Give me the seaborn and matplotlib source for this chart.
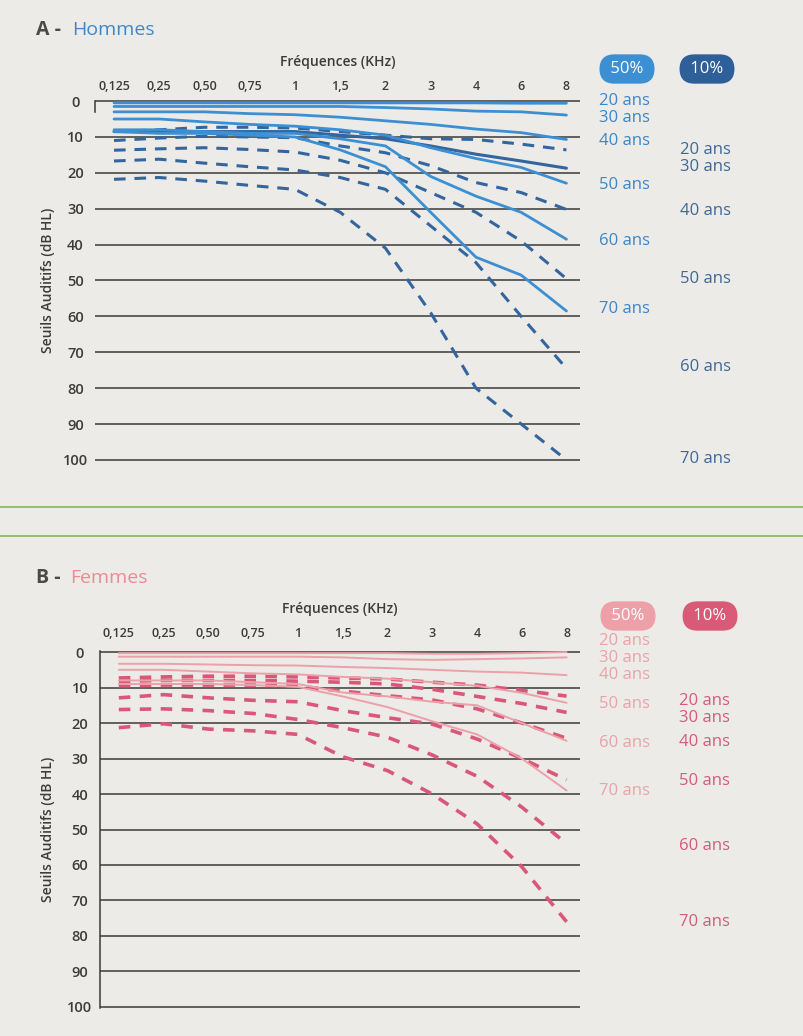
"""
Seuils auditifs par age - Hommes / Femmes
==========================================
Courbes 50% et 10% des seuils auditifs en fonction de la frequence.
"""

import numpy as np
import pandas as pd
import matplotlib
matplotlib.use("Agg")
import matplotlib.pyplot as plt
from matplotlib.lines import Line2D
import seaborn as sns

sns.set_style("white")
plt.rcParams["font.family"] = ["Open Sans", "DejaVu Sans"]

# --- donnees ---
frequences = ["0,125", "0,25", "0,50", "0,75", "1", "1,5", "2", "3", "4", "6", "8"]
ages = [20, 30, 40, 50, 60, 70]

hommes_50 = [
    [0.5, 0.5, 0.5, 0.5, 0.5, 0.5, 0.5, 0.5, 0.5, 0.6, 0.6],
    [1.5, 1.5, 1.5, 1.5, 1.5, 1.5, 1.8, 2.2, 2.8, 3.0, 3.9],
    [3.0, 3.0, 3.0, 3.5, 3.8, 4.5, 5.5, 6.5, 7.8, 8.8, 10.7],
    [5.0, 5.0, 5.8, 6.5, 7.0, 8.0, 9.5, 13.0, 16.0, 18.5, 22.9],
    [8.0, 8.0, 8.5, 9.0, 9.0, 10.5, 12.5, 21.0, 26.5, 31.0, 38.5],
    [8.5, 9.0, 9.0, 9.5, 10.0, 13.6, 18.3, 31.0, 43.5, 48.5, 58.5],
]
hommes_10 = [
    [8.5, 8.0, 7.3, 7.3, 7.5, 8.5, 9.5, 10.5, 10.7, 12.0, 13.6],
    [8.5, 8.5, 8.5, 8.5, 8.5, 9.5, 10.5, 12.5, 14.8, 16.7, 18.7],
    [11.0, 10.3, 9.8, 10.0, 10.2, 12.5, 14.4, 18.0, 22.7, 25.5, 30.2],
    [13.7, 13.3, 13.0, 13.5, 14.2, 16.5, 20.0, 25.5, 31.0, 39.0, 49.5],
    [16.7, 16.2, 17.3, 18.3, 19.2, 21.3, 24.6, 34.8, 45.0, 60.0, 74.5],
    [21.8, 21.3, 22.3, 23.5, 24.6, 31.0, 41.0, 59.0, 80.0, 90.0, 100.0],
]
femmes_50 = [
    [0.3, 0.3, 0.3, 0.3, 0.3, 0.3, 0.3, 0.5, 0.5, 0.3, 0.0],
    [1.3, 1.3, 1.3, 1.3, 1.3, 1.5, 2.0, 2.2, 2.0, 1.8, 1.5],
    [3.3, 3.3, 3.5, 3.7, 3.8, 4.2, 4.5, 5.0, 5.5, 5.8, 6.5],
    [5.0, 5.0, 5.5, 6.0, 6.3, 7.0, 7.5, 8.5, 9.5, 11.5, 14.3],
    [8.0, 8.0, 8.0, 8.5, 9.0, 11.4, 12.5, 14.0, 15.0, 20.0, 25.0],
    [9.0, 9.0, 9.0, 9.3, 9.8, 12.5, 15.5, 19.5, 23.2, 30.0, 39.0],
]
femmes_10 = [
    [7.3, 7.0, 6.8, 6.8, 7.0, 7.3, 7.6, 8.5, 9.3, 10.8, 12.4],
    [8.3, 8.0, 8.0, 8.0, 8.2, 8.5, 9.0, 10.5, 12.5, 14.5, 17.0],
    [9.5, 9.3, 9.3, 9.3, 9.6, 11.0, 12.3, 13.5, 16.0, 20.0, 24.3],
    [12.9, 12.0, 12.9, 13.6, 14.0, 16.5, 18.5, 20.3, 24.5, 30.0, 36.0],
    [16.2, 16.0, 16.5, 17.3, 19.0, 21.3, 24.0, 29.0, 35.0, 43.7, 54.0],
    [21.3, 20.2, 21.7, 22.2, 23.2, 29.5, 33.4, 40.0, 48.4, 60.5, 76.0],
]

# hauteur des etiquettes "xx ans" (dB), decalees pour ne pas se chevaucher
hommes_lbl_50 = [0.0, 4.7, 11.0, 23.4, 39.0, 58.0]
hommes_lbl_10 = [13.6, 18.4, 30.6, 49.6, 74.0, 99.7]
femmes_lbl_50 = [-3.0, 1.7, 6.4, 14.6, 25.5, 39.2]
femmes_lbl_10 = [13.7, 18.6, 25.4, 36.4, 54.6, 76.2]

BG = "#ecebe8"
GRID = "#3a3a3a"
TXT = "#3c3c3c"
W, H = 804, 1036


def to_long(series):
    rows = []
    for age, vals in zip(ages, series):
        for f, v in zip(frequences, vals):
            rows.append({"freq": f, "db": v, "age": age})
    return pd.DataFrame(rows)


def draw_panel(ax, s50, s10, c50, c10, lbl50, lbl10, col_lbl50, col_lbl10,
               lw50, lw10, dash, full_spine, ypad, xpad, solid_10=()):
    df50 = to_long(s50)
    df10 = to_long(s10)

    for age in ages:
        d = df10[df10.age == age]
        ls = "-" if age in solid_10 else (0, dash)
        sns.lineplot(data=d, x="freq", y="db", color=c10, linewidth=lw10,
                     linestyle=ls, sort=False, ax=ax, legend=False)
    for age in ages:
        d = df50[df50.age == age]
        sns.lineplot(data=d, x="freq", y="db", color=c50, linewidth=lw50,
                     sort=False, ax=ax, legend=False)

    ax.set_xlim(-0.42, 10.3)
    ax.set_ylim(100.3, -0.3)
    ax.set_yticks(np.arange(0, 101, 10))
    ax.yaxis.grid(True, color=GRID, linewidth=1.1)
    ax.xaxis.grid(False)
    ax.set_facecolor(BG)

    ax.xaxis.tick_top()
    ax.xaxis.set_label_position("top")
    ax.tick_params(axis="x", length=0, pad=xpad, labelsize=9, colors=TXT)
    ax.tick_params(axis="y", length=0, pad=ypad, labelsize=10.5, colors=TXT)
    for t in ax.get_yticklabels():
        t.set_fontweight("semibold")
        t.set_horizontalalignment("center")
    for t in ax.get_xticklabels():
        t.set_fontweight("semibold")
    ax.set_xlabel("Fréquences (KHz)", fontsize=10, color=TXT,
                  fontweight="semibold", labelpad=10)

    for s in ["top", "right", "bottom"]:
        ax.spines[s].set_visible(False)
    ax.spines["left"].set_color(GRID)
    ax.spines["left"].set_linewidth(1.1)
    if not full_spine:
        ax.spines["left"].set_bounds(0, 3)

    for age, y in zip(ages, lbl50):
        ax.text(10.72, y, f"{age} ans", color=col_lbl50, fontsize=12,
                va="center", ha="left", clip_on=False)
    for age, y in zip(ages, lbl10):
        ax.text(12.52, y, f"{age} ans", color=col_lbl10, fontsize=12,
                va="center", ha="left", clip_on=False)


def pill(fig, x, y, text, fc):
    fig.text(x / W, 1 - y / H, f" {text} ", ha="center", va="center",
             color="white", fontsize=12,
             bbox=dict(boxstyle="round,pad=0.4,rounding_size=0.9", fc=fc,
                       ec="none"))


fig = plt.figure(figsize=(8.04, 10.36), dpi=100)
fig.patch.set_facecolor(BG)

# --- A - Hommes ---
ax_h = fig.add_axes([95 / W, 1 - 461 / H, 485 / W, 361 / H])
draw_panel(ax_h, hommes_50, hommes_10, "#3b8fd2", "#33659e",
           hommes_lbl_50, hommes_lbl_10, "#3a86c8", "#3d6898",
           lw50=2.0, lw10=2.2, dash=(3.8, 2.9), full_spine=False,
           ypad=14, xpad=5, solid_10=(30,))
ax_h.set_ylabel("Seuils Auditifs (dB HL)", fontsize=10, color=TXT,
                fontweight="semibold", labelpad=6)

fig.text(36 / W, 1 - 30 / H, "A -", fontsize=14, fontweight="bold",
         color="#4a4a4a", va="center")
fig.text(72 / W, 1 - 30 / H, "Hommes", fontsize=14, color="#3f88c8",
         va="center")
pill(fig, 627, 69, "50%", "#3d8fd3")
pill(fig, 707, 69, "10%", "#2f5f98")

# separation
for yy in (507, 536):
    fig.add_artist(Line2D([0, 1], [1 - yy / H, 1 - yy / H],
                          transform=fig.transFigure, color="#8dbb66",
                          linewidth=1.3))

# --- B - Femmes ---
ax_f = fig.add_axes([100 / W, 1 - 1008 / H, 480 / W, 357 / H])
draw_panel(ax_f, femmes_50, femmes_10, "#eda0a8", "#d9587a",
           femmes_lbl_50, femmes_lbl_10, "#eba2a8", "#d25c79",
           lw50=1.4, lw10=2.6, dash=(3.2, 2.6), full_spine=True,
           ypad=14.5, xpad=8)
ax_f.set_ylabel("Seuils Auditifs (dB HL)", fontsize=10, color=TXT,
                fontweight="semibold", labelpad=9)

fig.text(36 / W, 1 - 578 / H, "B -", fontsize=14, fontweight="bold",
         color="#4a4a4a", va="center")
fig.text(70 / W, 1 - 578 / H, "Femmes", fontsize=14, color="#e98c95",
         va="center")
pill(fig, 628, 616, "50%", "#eea0a8")
pill(fig, 710, 616, "10%", "#d95a77")

fig.savefig("out.png", dpi=100, facecolor=fig.get_facecolor())
plt.close(fig)
